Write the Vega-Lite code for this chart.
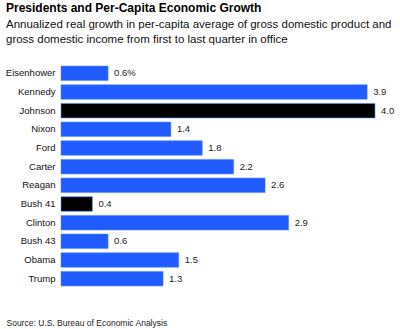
{
  "$schema": "https://vega.github.io/schema/vega-lite/v6.json",
  "autosize": "none",
  "width": 314,
  "height": 224,
  "padding": {"left": 61, "top": 64, "right": 25, "bottom": 41},
  "background": "white",
  "title": {
    "text": "Presidents and Per-Capita Economic Growth",
    "subtitle": ["Annualized real growth in per-capita average of gross domestic product and", "gross domestic income from first to last quarter in office"],
    "anchor": "start",
    "frame": "group",
    "dx": -55,
    "offset": 18,
    "font": "Liberation Sans",
    "fontSize": 12,
    "fontWeight": "bold",
    "color": "#000000",
    "subtitleFont": "Liberation Sans",
    "subtitleFontSize": 11.5,
    "subtitleColor": "#111111",
    "subtitleLineHeight": 15,
    "subtitlePadding": 4
  },
  "data": {
    "values": [
      {"president": "Eisenhower", "growth": 0.6, "label": "0.6%", "highlight": "no"},
      {"president": "Kennedy", "growth": 3.9, "label": "3.9", "highlight": "no"},
      {"president": "Johnson", "growth": 4.0, "label": "4.0", "highlight": "yes"},
      {"president": "Nixon", "growth": 1.4, "label": "1.4", "highlight": "no"},
      {"president": "Ford", "growth": 1.8, "label": "1.8", "highlight": "no"},
      {"president": "Carter", "growth": 2.2, "label": "2.2", "highlight": "no"},
      {"president": "Reagan", "growth": 2.6, "label": "2.6", "highlight": "no"},
      {"president": "Bush 41", "growth": 0.4, "label": "0.4", "highlight": "yes"},
      {"president": "Clinton", "growth": 2.9, "label": "2.9", "highlight": "no"},
      {"president": "Bush 43", "growth": 0.6, "label": "0.6", "highlight": "no"},
      {"president": "Obama", "growth": 1.5, "label": "1.5", "highlight": "no"},
      {"president": "Trump", "growth": 1.3, "label": "1.3", "highlight": "no"}
    ]
  },
  "encoding": {
    "y": {
      "field": "president",
      "type": "nominal",
      "sort": null,
      "scale": {"paddingInner": 0.22, "paddingOuter": 0.11},
      "axis": {
        "title": null,
        "ticks": false,
        "domain": false,
        "labelPadding": 6,
        "labelFont": "Liberation Sans",
        "labelFontSize": 9.5,
        "labelColor": "#111111"
      }
    },
    "x": {
      "field": "growth",
      "type": "quantitative",
      "scale": {"domain": [0, 4], "nice": false},
      "axis": {
        "title": "Source: U.S. Bureau of Economic Analysis",
        "labels": false,
        "ticks": false,
        "domain": false,
        "grid": false,
        "titleAnchor": "start",
        "titleAlign": "left",
        "titleBaseline": "alphabetic",
        "titleX": -55,
        "titleY": 37,
        "titleFont": "Liberation Sans",
        "titleFontSize": 8.5,
        "titleFontWeight": "normal",
        "titleColor": "#222222"
      }
    }
  },
  "layer": [
    {
      "mark": {"type": "bar", "stroke": "#5b8bff", "strokeWidth": 0.6},
      "encoding": {
        "color": {
          "field": "highlight",
          "type": "nominal",
          "scale": {"domain": ["no", "yes"], "range": ["#1f5bff", "#000000"]},
          "legend": null
        }
      }
    },
    {
      "mark": {"type": "text", "align": "left", "dx": 6, "font": "Liberation Sans", "fontSize": 9.5, "color": "#222222"},
      "encoding": {"text": {"field": "label"}}
    }
  ],
  "config": {"view": {"stroke": null}}
}
